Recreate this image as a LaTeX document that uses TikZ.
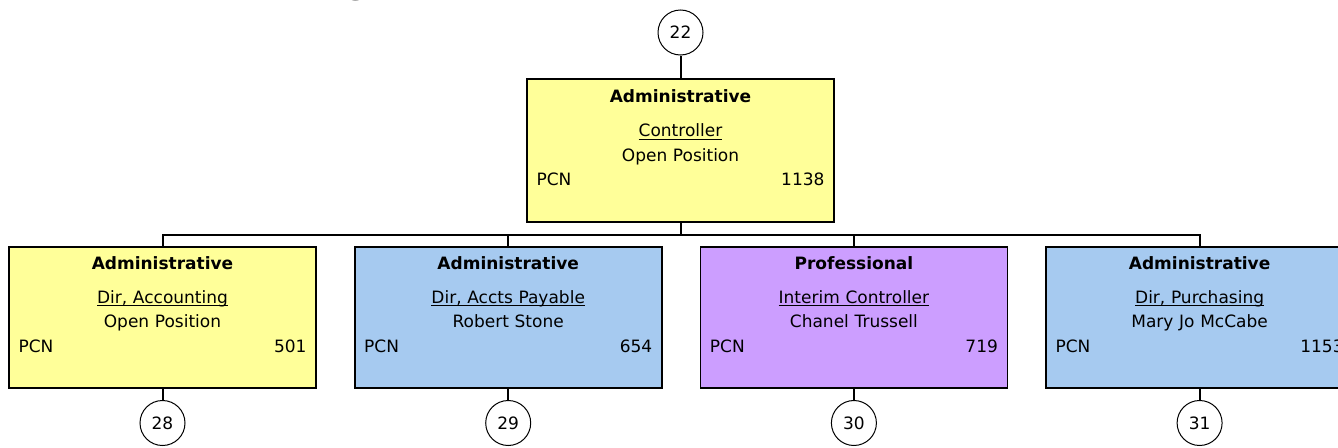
\documentclass[tikz,border=0pt]{standalone}
\usepackage{fontspec}
\setmainfont{DejaVu Sans}
\usetikzlibrary{positioning}

\definecolor{adminyellow}{HTML}{FFFF99}
\definecolor{adminblue}{HTML}{A6CAF0}
\definecolor{profpurple}{HTML}{CC9EFF}

% underline at a fixed depth below the baseline
\newcommand{\jobline}[1]{\leavevmode\setbox0\hbox{#1}\rlap{\rule[-3pt]{\wd0}{1pt}}\box0}

\begin{document}
\begin{tikzpicture}[x=1pt, y=-1pt, node distance=10.5pt,
		box_style/.style={rectangle,draw=black,line width=1.8pt,minimum width=307pt,minimum height=141pt,inner sep=0pt},
		text_style/.style={inner sep=0pt,text width=288pt,align=center,font=\fontsize{17}{24.5}\selectfont},
		num_style/.style={circle,draw=black,fill=white,line width=1pt,minimum size=45pt,inner sep=0pt,font=\fontsize{17}{20}\selectfont},
		edge_style/.style={draw=black,line width=2pt}]

		\useasboundingbox (0,0) rectangle (1338,447);

		% cut-off heading
		\node[anchor=base,inner sep=0pt,font=\fontsize{34}{40}\selectfont\bfseries] (heading) at (358,-6.5) {g};

		\node[num_style] (c22) at (680.5,32.5)  {22};
		\node[box_style,fill=adminyellow,minimum height=143pt] (b22) at (680.5,150.5) {};
		\node[box_style,fill=adminyellow] (b28) at (162.5,317.5)  {};
		\node[box_style,fill=adminblue] (b29) at (508.2,317.5)  {};
		\node[box_style,fill=profpurple] (b30) at (853.9,317.5)  {};
		\node[box_style,fill=adminblue] (b31) at (1199.6,317.5)  {};
		\node[num_style] (c28) at (162.5,423)  {28};
		\node[num_style] (c29) at (508.2,423)  {29};
		\node[num_style] (c30) at (853.9,423)  {30};
		\node[num_style] (c31) at (1199.6,423)  {31};

		\node[text_style,below=11pt of b22.north] (t22) {\textbf{Administrative}\\[10pt]
			\jobline{Controller}\\ Open Position\\ \makebox[288pt][s]{PCN\hfill 1138}};
		\node[text_style,below=of b28.north] (t28) {\textbf{Administrative}\\[9pt]
			\jobline{Dir, Accounting}\\ Open Position\\ \makebox[288pt][s]{PCN\hfill 501}};
		\node[text_style,below=of b29.north] (t29) {\textbf{Administrative}\\[9pt]
			\jobline{Dir, Accts Payable}\\ Robert Stone\\ \makebox[288pt][s]{PCN\hfill 654}};
		\node[text_style,below=of b30.north] (t30) {\textbf{Professional}\\[9pt]
			\jobline{Interim Controller}\\ Chanel Trussell\\ \makebox[288pt][s]{PCN\hfill 719}};
		\node[text_style,below=of b31.north] (t31) {\textbf{Administrative}\\[9pt]
			\jobline{Dir, Purchasing}\\ Mary Jo McCabe\\ \makebox[288pt][s]{PCN\hfill 1153}};

		\coordinate (bus) at (680.5,234.5);

		\draw[edge_style]  (c22) -- (b22);
		\draw[edge_style]  (b22) -- (bus);
		\draw[edge_style]  (bus) -| (b28.north);
		\draw[edge_style]  (bus) -| (b29.north);
		\draw[edge_style]  (bus) -| (b30.north);
		\draw[edge_style]  (bus) -| (b31.north);
		\draw[edge_style]  (b28) -- (c28);
		\draw[edge_style]  (b29) -- (c29);
		\draw[edge_style]  (b30) -- (c30);
		\draw[edge_style]  (b31) -- (c31);

\end{tikzpicture}
\end{document}
